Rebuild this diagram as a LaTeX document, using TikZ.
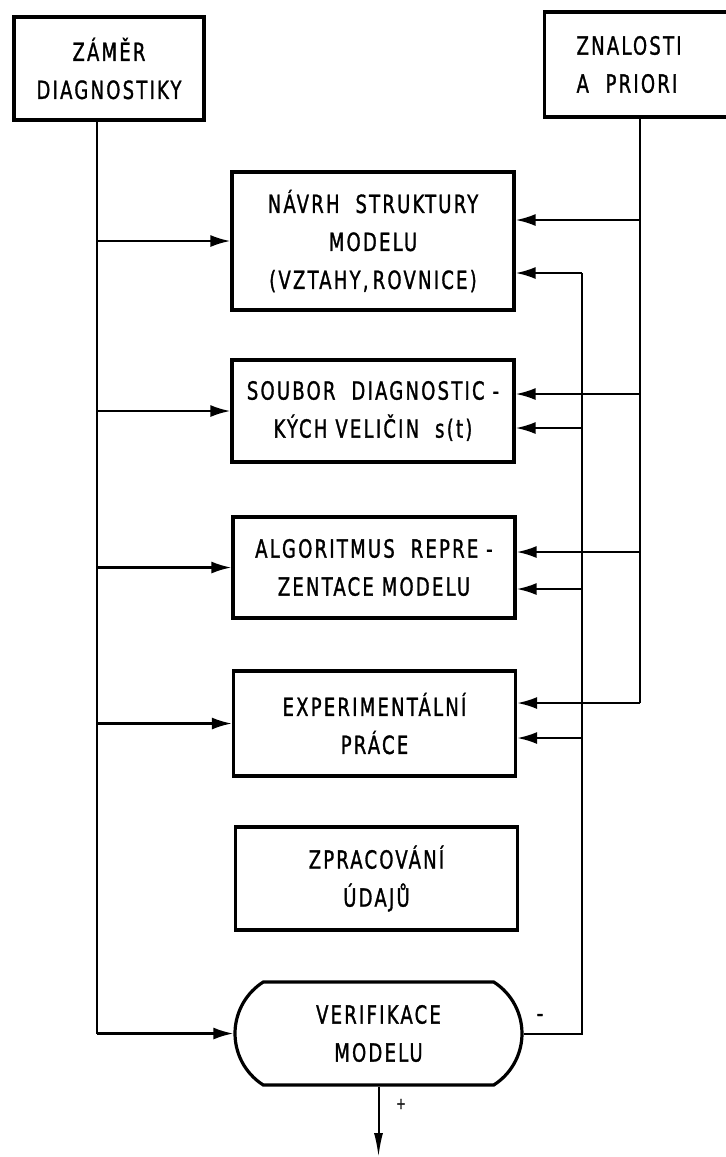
\documentclass[tikz,border=0pt]{standalone}
\usepackage{fontspec}
\newfontfamily\techfont{DejaVu Sans Condensed}[LetterSpace=9, FakeStretch=0.8, FakeBold=1.2]
\usetikzlibrary{arrows.meta, calc, positioning, shapes.misc}
\tikzset{
  blok/.style    = {draw, line width=1.6pt, minimum width=141pt, inner sep=0pt,
                    align=center, font=\techfont\fontsize{12.5}{19}\selectfont},
  verblok/.style = {blok, rounded rectangle, rounded rectangle arc length=115,
                    minimum width=143.5pt, minimum height=51.5pt},
  vodic/.style   = {line width=1pt},
  sipka/.style   = {line width=1.2pt, -{Latex[length=10pt, width=6pt]}},
  znak/.style    = {font=\techfont\fontsize{12.5}{13}\selectfont, inner sep=0pt},
}

\begin{document}
\begin{tikzpicture}[x=0.5pt, y=-0.5pt]
  \useasboundingbox (0,0) rectangle (725,1157);
  \node[blok, minimum width=95pt, minimum height=51.5pt] (zamer) at (109,68.5) {ZÁMĚR\\DIAGNOSTIKY};
  \node[blok, anchor=west, align=left, minimum width=0pt, text width=80pt, inner xsep=16pt, minimum height=52.5pt] (znal) at (543,64.5) {ZNALOSTI\\A\ \ PRIORI};
  \node[blok, minimum height=69pt] (navrh) at (373,241) {NÁVRH\ \ STRUKTURY\\MODELU\\(VZTAHY,\,ROVNICE)};
  \node[blok, minimum height=51pt] (soubor) at (373,411) {SOUBOR\ \ DIAGNOSTIC -\\KÝCH VELIČIN\ \ s(t)};
  \node[blok, minimum height=50.5pt] (algor) at (374,567.5) {ALGORITMUS\ \ REPRE -\\ZENTACE MODELU};
  \node[blok, minimum height=52.5pt] (exper) at (374.5,723.5) {EXPERIMENTÁLNÍ\\PRÁCE};
  \node[blok, minimum height=51.5pt] (zprac) at (376.5,878.5) {ZPRACOVÁNÍ\\ÚDAJŮ};
  \node[verblok] (verif) at (378.5,1033.5) {VERIFIKACE\\MODELU};
  \coordinate (lbus) at (97,1036);
  \coordinate (r1) at (640,220);
  \coordinate (r2) at (640,394);
  \coordinate (r3) at (640,552);
  \coordinate (r4) at (640,703);
  \coordinate (q1) at (582,273);
  \coordinate (q2) at (582,428);
  \coordinate (q3) at (582,589);
  \coordinate (q4) at (582,738);
  \coordinate (vystup) at (381,1157);
  \draw[vodic] (zamer.south -| lbus) -- (lbus |- verif.west);
  \draw[sipka] (lbus |- verif.west) -- (verif.west);
  \foreach \b in {navrh, soubor, algor, exper}
    \draw[sipka] (lbus |- \b.west) -- (\b.west);
  \draw[vodic] (znal.south -| r1) -- (r4);
  \draw[sipka] (r4) -- (r4 -| exper.east);
  \draw[sipka] (r1) -- (r1 -| navrh.east);
  \draw[sipka] (r2) -- (r2 -| soubor.east);
  \draw[sipka] (r3) -- (r3 -| algor.east);
  \draw[vodic] (verif.east) -| (q1);
  \draw[sipka] (q1) -- (q1 -| navrh.east);
  \draw[sipka] (q2) -- (q2 -| soubor.east);
  \draw[sipka] (q3) -- (q3 -| algor.east);
  \draw[sipka] (q4) -- (q4 -| exper.east);
  \draw[vodic, -{Latex[length=12pt, width=4.5pt]}] (verif.south) -- (verif.south |- vystup);
  \node[znak] (minus) at (540,1018) {-};
  \node[znak, font=\techfont\fontsize{8}{10}\selectfont] (plus) at (401,1104) {+};
\end{tikzpicture}
\end{document}
